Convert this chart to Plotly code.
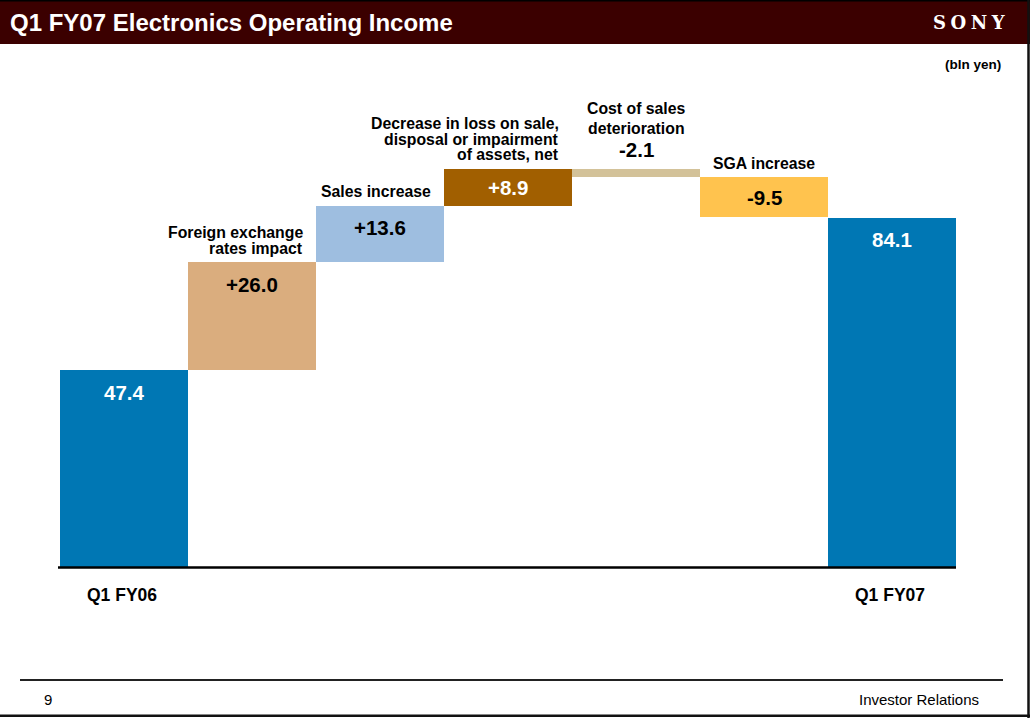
import plotly.graph_objects as go

# ---------------- data ----------------
categories = ["Q1 FY06",
              "Foreign exchange<br>rates impact",
              "Sales increase",
              "Decrease in loss on sale,<br>disposal or impairment<br>of assets, net",
              "Cost of sales<br>deterioration",
              "SGA increase",
              "Q1 FY07"]
start_value = 47.4
changes = [26.0, 13.6, 8.9, -2.1, -9.5]
end_value = 84.1
value_labels = ["47.4", "+26.0", "+13.6", "+8.9", "-2.1", "-9.5", "84.1"]

# ---------------- style ----------------
bar_colors = ["#0077B4", "#DAAD7E", "#9EBEE0", "#A15F00", "#D3C299", "#FFC34E", "#0077B4"]
value_colors = ["white", "black", "black", "white", "black", "black", "white"]
FONT = "Liberation Sans, Arial, sans-serif"
W, H = 1030, 718
PL, PR, PT, PB = 60, 956, 60, 567  # plot area in pixels
YMAX = (PB - PT) / 4.153

def px(x):
    return (x - PL) / (PR - PL)

def py(y):
    return (PB - y) / (PB - PT)

# waterfall geometry from the data
bases, heights = [0.0], [start_value]
running = start_value
for c in changes:
    if c >= 0:
        bases.append(running); heights.append(c)
    else:
        bases.append(running + c); heights.append(-c)
    running += c
bases.append(0.0); heights.append(end_value)
tops = [b + h for b, h in zip(bases, heights)]
xs = list(range(len(categories)))

fig = go.Figure()
fig.add_trace(go.Bar(x=xs, y=heights, base=bases, width=1,
                     marker=dict(color=bar_colors, line=dict(width=0)),
                     hoverinfo="skip"))

ann = []
unit_px = (PB - PT) / YMAX
for i, (t, h, lab, col) in enumerate(zip(tops, heights, value_labels, value_colors)):
    if i == 4:
        ann.append(dict(x=i, y=t, xref="x", yref="y", text=lab, showarrow=False,
                        yanchor="middle", yshift=19,
                        font=dict(family=FONT, size=20.5, color="black", weight=700)))
    else:
        shift = min(22, h * unit_px / 2)
        ann.append(dict(x=i, y=t, xref="x", yref="y", text=lab, showarrow=False,
                        yanchor="middle", yshift=-shift,
                        font=dict(family=FONT, size=20.5, color=col, weight=700)))

# category labels above change bars
for i in range(1, len(categories) - 1):
    lines = categories[i].split("<br>")
    n = len(lines)
    if i == 4:
        spacing, base_shift = 20, 40
        for k, ln in enumerate(lines):
            ann.append(dict(x=i, y=tops[i], xref="x", yref="y", text=ln, showarrow=False,
                            xanchor="center", yanchor="middle",
                            yshift=base_shift + (n - 1 - k) * spacing,
                            font=dict(family=FONT, size=15.8, color="black", weight=700)))
    else:
        spacing, base_shift = 15.5, 14
        for k, ln in enumerate(lines):
            ann.append(dict(x=i + 0.5, y=tops[i], xref="x", yref="y", text=ln, showarrow=False,
                            xanchor="right", yanchor="middle", xshift=-11,
                            yshift=base_shift + (n - 1 - k) * spacing,
                            font=dict(family=FONT, size=15.8, color="black", weight=700)))

# total labels below baseline
for i in (0, len(categories) - 1):
    ann.append(dict(x=i, y=0, xref="x", yref="y", text=categories[i], showarrow=False,
                    xanchor="center", yanchor="middle", yshift=-28, xshift=-2,
                    font=dict(family=FONT, size=17.5, color="black", weight=700)))

# header / footer text
ann += [
    dict(x=px(8), y=py(22), xref="paper", yref="paper", text="Q1 FY07 Electronics Operating Income",
         showarrow=False, xanchor="left", yanchor="middle",
         font=dict(family=FONT, size=24, color="white", weight=700)),
    dict(x=px(1008), y=py(22), xref="paper", yref="paper", text="S\u2005O\u2005N\u2005Y",
         showarrow=False, xanchor="right", yanchor="middle",
         font=dict(family="DejaVu Serif, serif", size=18, color="white", weight=700)),
    dict(x=px(1003), y=py(64), xref="paper", yref="paper", text="(bln yen)",
         showarrow=False, xanchor="right", yanchor="middle",
         font=dict(family=FONT, size=13.5, color="black", weight=700)),
    dict(x=px(42), y=py(699), xref="paper", yref="paper", text="9",
         showarrow=False, xanchor="left", yanchor="middle",
         font=dict(family=FONT, size=15, color="black")),
    dict(x=px(981), y=py(699), xref="paper", yref="paper", text="Investor Relations",
         showarrow=False, xanchor="right", yanchor="middle",
         font=dict(family=FONT, size=15, color="black")),
]

shapes = [
    dict(type="rect", xref="paper", yref="paper", x0=px(-2), x1=px(W + 2), y0=py(44), y1=py(-2),
         fillcolor="#3B0000", line=dict(width=0), layer="below"),
    dict(type="line", xref="paper", yref="paper", x0=px(0), x1=px(W), y0=py(0.8), y1=py(0.8),
         line=dict(color="black", width=1.6)),
    dict(type="line", xref="paper", yref="paper", x0=px(1028.5), x1=px(1028.5), y0=py(0), y1=py(H),
         line=dict(color="#111111", width=2.5)),
    dict(type="line", xref="paper", yref="paper", x0=px(0), x1=px(W), y0=py(715.8), y1=py(715.8),
         line=dict(color="#111111", width=2.5)),
    dict(type="line", xref="paper", yref="paper", x0=px(20), x1=px(1003), y0=py(680), y1=py(680),
         line=dict(color="#222222", width=1.8)),
    dict(type="line", xref="paper", yref="paper", x0=px(58), x1=px(956), y0=py(567.5), y1=py(567.5),
         line=dict(color="black", width=2.5)),
]

fig.update_layout(
    width=W, height=H,
    margin=dict(l=PL, r=W - PR, t=PT, b=H - PB, pad=0),
    paper_bgcolor="white", plot_bgcolor="white",
    showlegend=False, bargap=0,
    xaxis=dict(range=[-0.5, len(categories) - 0.5], visible=False, fixedrange=True),
    yaxis=dict(range=[0, YMAX], visible=False, fixedrange=True),
    annotations=ann, shapes=shapes,
)

fig.write_html("out.html", config={"displayModeBar": False},
               post_script="document.body.style.margin='0px';document.body.style.overflow='hidden';")
